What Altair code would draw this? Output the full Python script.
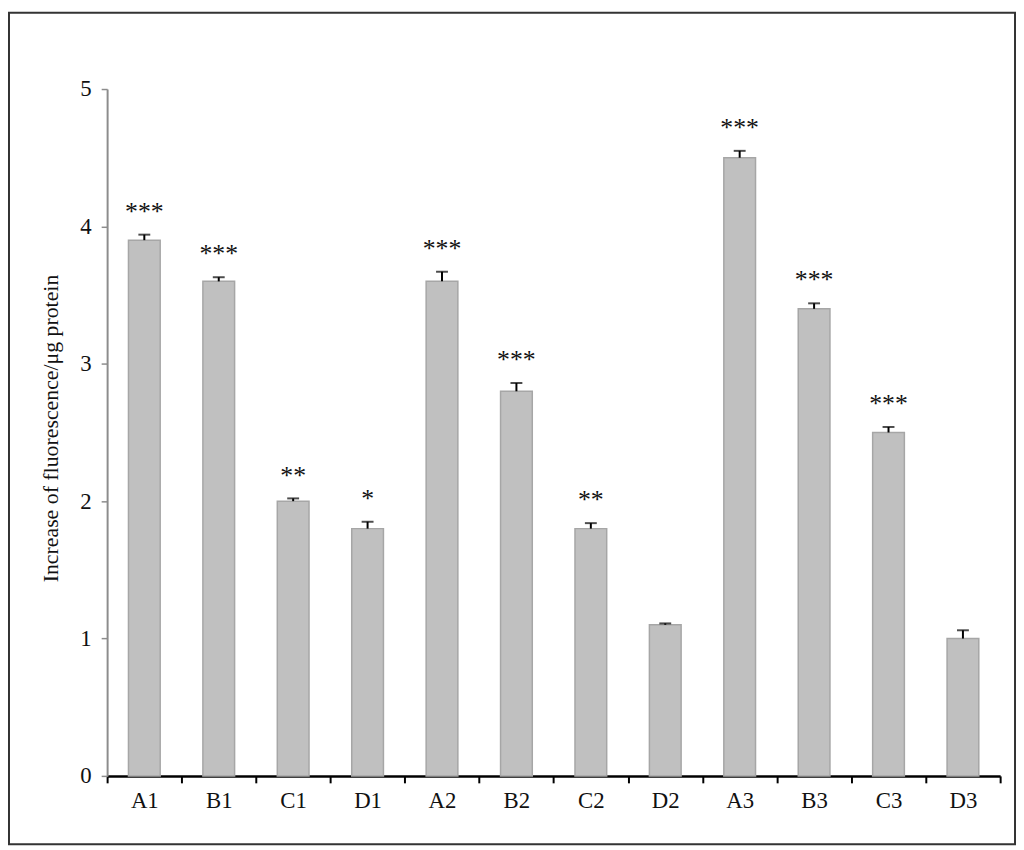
import altair as alt
import pandas as pd

categories = ["A1", "B1", "C1", "D1", "A2", "B2", "C2", "D2", "A3", "B3", "C3", "D3"]
values = [3.9, 3.6, 2.0, 1.8, 3.6, 2.8, 1.8, 1.1, 4.5, 3.4, 2.5, 1.0]
errors = [0.04, 0.03, 0.02, 0.05, 0.07, 0.06, 0.04, 0.01, 0.05, 0.04, 0.04, 0.06]
stars = ["***", "***", "**", "*", "***", "***", "**", "", "***", "***", "***", ""]

df = pd.DataFrame({"cat": categories, "val": values, "err": errors, "star": stars})
df["top"] = df["val"] + df["err"]

serif = "Liberation Serif"
W, H = 901, 693

x = alt.X("cat:N", sort=categories, title=None,
          scale=alt.Scale(paddingInner=0, paddingOuter=0),
          axis=alt.Axis(labelAngle=0, labelFont=serif, labelFontSize=23, labelColor="#111",
                        labelPadding=7, domainColor="#000", domainWidth=2.5,
                        tickColor="#000", tickWidth=2, tickSize=7, tickBand="extent"))

y_axis = alt.Axis(values=[0, 1, 2, 3, 4, 5], format="d", grid=False,
                  labelFont=serif, labelFontSize=23, labelColor="#111", labelPadding=10,
                  domainColor="#8c8c8c", domainWidth=2, tickColor="#8c8c8c", tickWidth=1.5,
                  tickSize=6, title="Increase of fluorescence/μg protein",
                  titleFont=serif, titleFontSize=22, titleFontWeight="normal",
                  titleColor="#111", titleX=-45, titleY=342)

base = alt.Chart(df)

bars = base.mark_bar(size=32, fill="#c0c0c0", stroke="#a6a6a6", strokeWidth=1.5).encode(
    x=x,
    y=alt.Y("val:Q", scale=alt.Scale(domain=[0, 5], nice=False), axis=y_axis),
)

err_rule = base.mark_rule(color="#000", strokeWidth=2).encode(
    x=alt.X("cat:N", sort=categories), y="val:Q", y2="top:Q"
)

err_cap = base.mark_tick(color="#000", size=12, thickness=2).encode(
    x=alt.X("cat:N", sort=categories), y="top:Q"
)

star_text = base.mark_text(font=serif, fontSize=26, color="#111", dy=-15,
                           baseline="alphabetic").encode(
    x=alt.X("cat:N", sort=categories), y="top:Q", text="star:N"
)

frame = alt.Chart(pd.DataFrame({"a": [0]})).mark_rect(
    fillOpacity=0, stroke="#333", strokeWidth=2
).encode(
    x=alt.value(-99), x2=alt.value(W + 15), y=alt.value(-77), y2=alt.value(H + 69)
)

chart = alt.layer(frame, bars, err_rule, err_cap, star_text).properties(
    width=W, height=H, padding=0, background="white"
).configure_view(stroke=None)

chart.save("out.html", embed_options={"renderer": "svg", "actions": False})
